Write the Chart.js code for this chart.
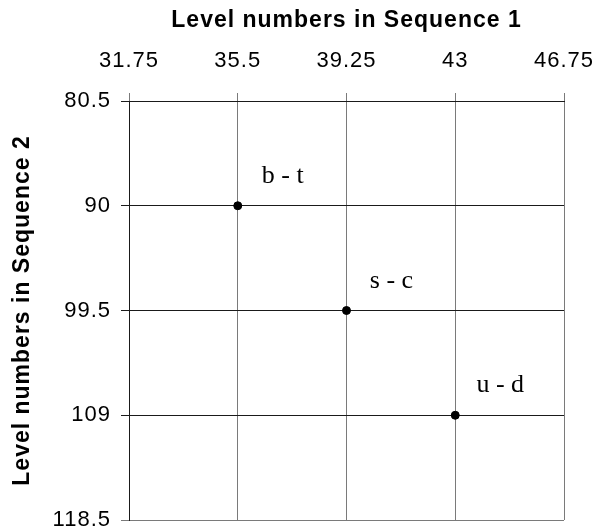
<!DOCTYPE html>
<html>
<head>
<meta charset="utf-8">
<script src="https://cdn.jsdelivr.net/npm/chart.js@4/dist/chart.umd.min.js"></script>
<style>
  html, body { margin: 0; padding: 0; background: #fff; }
  canvas { display: block; }
</style>
</head>
<body>
<canvas id="levels" width="596" height="529"></canvas>
<script>
// level pairs: x = Sequence 1, y = Sequence 2
const pairNames = ['b - t', 's - c', 'u - d'];
const seq1Levels = [35.5, 39.25, 43];
const seq2Levels = [90, 99.5, 109];

const xTicks = [31.75, 35.5, 39.25, 43, 46.75];
const yTicks = [80.5, 90, 99.5, 109, 118.5];

const sans = '"Liberation Sans", Arial, sans-serif';

// slightly looser sans text for ticks and axis titles
const spacing = {
  id: 'spacing',
  beforeUpdate(chart) { chart.ctx.letterSpacing = '1px'; },
  beforeDraw(chart) { chart.ctx.letterSpacing = '1px'; }
};

// writes the pair name up and to the right of each point
const pairLabels = {
  id: 'pairLabels',
  afterDatasetsDraw(chart) {
    const ctx = chart.ctx;
    const meta = chart.getDatasetMeta(0);
    ctx.save();
    ctx.letterSpacing = '0px';
    ctx.font = '26px "Liberation Serif", "Times New Roman", serif';
    ctx.fillStyle = '#000';
    ctx.textAlign = 'center';
    ctx.textBaseline = 'alphabetic';
    meta.data.forEach((pt, i) => {
      ctx.fillText(pairNames[i], pt.x + 45, pt.y - 23);
    });
    ctx.restore();
  }
};

const points = seq1Levels.map((x, i) => ({ x: x, y: seq2Levels[i] }));

new Chart(document.getElementById('levels'), {
  type: 'scatter',
  data: {
    datasets: [{
      data: points,
      backgroundColor: '#000',
      borderColor: '#000',
      pointRadius: 4,
      pointHoverRadius: 4
    }]
  },
  options: {
    responsive: false,
    animation: false,
    layout: { padding: { top: 0, right: 32, bottom: 9, left: 0 } },
    plugins: { legend: { display: false }, tooltip: { enabled: false } },
    scales: {
      x: {
        position: 'top',
        min: xTicks[0],
        max: xTicks[xTicks.length - 1],
        afterBuildTicks(axis) { axis.ticks = xTicks.map(v => ({ value: v })); },
        afterFit(axis) {
          axis.height = 101;
          axis.paddingLeft = 0;
          axis.paddingRight = 0;
        },
        ticks: {
          color: '#000',
          font: { family: sans, size: 22 },
          padding: 19,
          maxRotation: 0,
          callback: v => String(v)
        },
        grid: { color: '#7a7a7a', lineWidth: 1, tickLength: 8 },
        border: { color: '#1a1a1a' },
        title: {
          display: true,
          text: 'Level numbers in Sequence 1',
          color: '#000',
          font: { family: sans, size: 23, weight: 'bold' },
          padding: { top: 7, bottom: 0 }
        }
      },
      y: {
        reverse: true,
        min: yTicks[0],
        max: yTicks[yTicks.length - 1],
        afterBuildTicks(axis) { axis.ticks = yTicks.map(v => ({ value: v })); },
        afterFit(axis) {
          axis.width = 129;
          axis.paddingTop = 0;
          axis.paddingBottom = 0;
        },
        ticks: {
          color: '#000',
          font: { family: sans, size: 22 },
          padding: 10,
          callback: v => String(v)
        },
        grid: {
          color: c => (c.tick && c.tick.value === yTicks[yTicks.length - 1]) ? '#7a7a7a' : '#1a1a1a',
          lineWidth: 1,
          tickLength: 8
        },
        border: { color: '#1a1a1a' },
        title: {
          display: true,
          text: 'Level numbers in Sequence 2',
          color: '#000',
          font: { family: sans, size: 23, weight: 'bold' },
          padding: { top: 9, bottom: 0 }
        }
      }
    }
  },
  plugins: [spacing, pairLabels]
});
</script>
</body>
</html>
